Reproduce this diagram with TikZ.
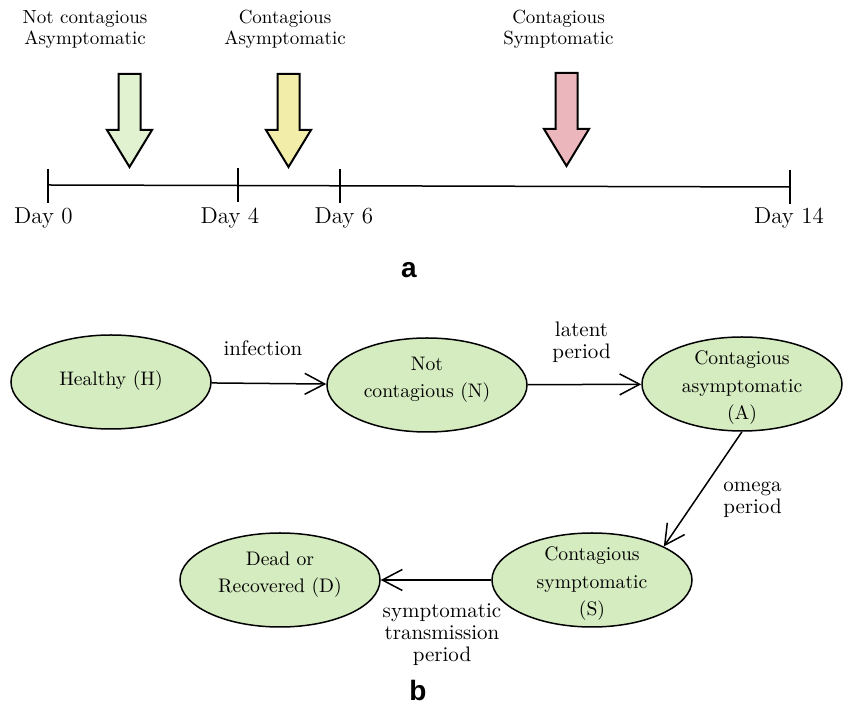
\documentclass[tikz,border=0pt]{standalone}
\usepackage{fontspec}
\newfontfamily\panelfont{Liberation Sans}
\usepackage{tikz}
\usetikzlibrary{positioning, arrows.meta, shapes.geometric}
\usepackage{xcolor}
\definecolor{stategreen}{RGB}{213,235,192}
\definecolor{phasegreen}{RGB}{224,242,208}
\definecolor{phaseyellow}{RGB}{242,238,170}
\definecolor{phasered}{RGB}{235,182,188}
\tikzset{
    state/.style={
        ellipse,
        draw=black,
        fill=stategreen,
        line width=0.75pt,
        minimum width=100pt,
        minimum height=47pt,
        inner xsep=0pt,
        inner ysep=-5pt,
        align=center,
        font=\fontsize{9.8}{13.75}\selectfont
    },
    twolines/.style={
        text height=15pt,
        text depth=2pt
    },
    threelines/.style={
        text height=38pt,
        text depth=2pt
    },
    transition/.style={
        line width=0.75pt,
        -{Straight Barb[length=10pt,width=10.5pt]}
    },
    translabel/.style={
        align=center,
        font=\fontsize{10.5}{11}\selectfont
    },
    phaselabel/.style={
        align=center,
        font=\fontsize{9.5}{10.5}\selectfont
    },
    daylabel/.style={
        anchor=base,
        font=\fontsize{11.5}{13}\selectfont
    },
    timeline/.style={
        line width=0.75pt
    },
    phasearrow/.style={
        draw=black,
        line width=1pt,
        line join=miter
    },
    panel/.style={
        font=\panelfont\bfseries\fontsize{14}{16}\selectfont
    }
}
% down arrow: centre x, top y, fill colour
\newcommand{\phasearrowat}[3]{%
  \draw[phasearrow,fill=#3] (#1-11,#2) -- (#1+11,#2) -- (#1+11,#2+56)
    -- (#1+22.5,#2+56) -- (#1,#2+93) -- (#1-22.5,#2+56) -- (#1-11,#2+56) -- cycle;}

\begin{document}
\begin{tikzpicture}[x=0.5pt,y=-0.5pt]
      \useasboundingbox (0,0) rectangle (847,704);

      % panel a: time line
      \coordinate (d0) at (48,185);
      \coordinate (d4) at (238,185.5);
      \coordinate (d6) at (340,186);
      \coordinate (d14) at (790,187);

      \draw[timeline] (d0) -- (d14);
      \draw[timeline] ([yshift=8pt]d0) -- ([yshift=-9pt]d0);
      \draw[timeline] ([yshift=8.5pt]d4) -- ([yshift=-8.5pt]d4);
      \draw[timeline] ([yshift=8.5pt]d6) -- ([yshift=-8.5pt]d6);
      \draw[timeline] ([yshift=8.5pt]d14) -- ([yshift=-8.5pt]d14);

      \node[daylabel] (day0) at (43.5,224) {Day 0};
      \node[daylabel] (day4) at (230,224) {Day 4};
      \node[daylabel] (day6) at (344,224) {Day 6};
      \node[daylabel] (day14) at (789,224) {Day 14};

      \phasearrowat{129.5}{74}{phasegreen}
      \phasearrowat{288.5}{74}{phaseyellow}
      \phasearrowat{566.5}{73}{phasered}

      \node[phaselabel] (notcont) at (85,29) {Not contagious\\Asymptomatic};
      \node[phaselabel] (contasym) at (285,29) {Contagious\\Asymptomatic};
      \node[phaselabel] (contsym) at (558.5,29) {Contagious\\Symptomatic};

      \node[panel] (pa) at (409,270) {a};

      % panel b: states
      \node[state,text depth=3.5pt] (H) at (111,382) {Healthy (H)};
      \node[state,twolines] (N) at (427,385) {Not\\contagious (N)};
      \node[state,threelines] (A) at (742,384) {Contagious\\asymptomatic\\(A)};
      \node[state,threelines] (S) at (592,580) {Contagious\\symptomatic\\(S)};
      \node[state,twolines] (D) at (280,580) {Dead or\\Recovered (D)};

      \draw[transition] (H) -- (N)
        node[translabel,midway,above=10pt,xshift=-3pt] {infection};
      \draw[transition] (N) -- (A)
        node[translabel,midway,above=7.5pt,xshift=-1.5pt] {latent\\period};
      \draw[transition] (A.south) -- (S.25)
        node[translabel,midway,anchor=west,xshift=6.5pt,yshift=-5.5pt] {omega\\period};
      \draw[transition] (S) -- (D)
        node[translabel,midway,below=8pt,xshift=3pt] {symptomatic\\transmission\\period};

      \node[panel] (pb) at (418,690) {b};

    \end{tikzpicture}
\end{document}
